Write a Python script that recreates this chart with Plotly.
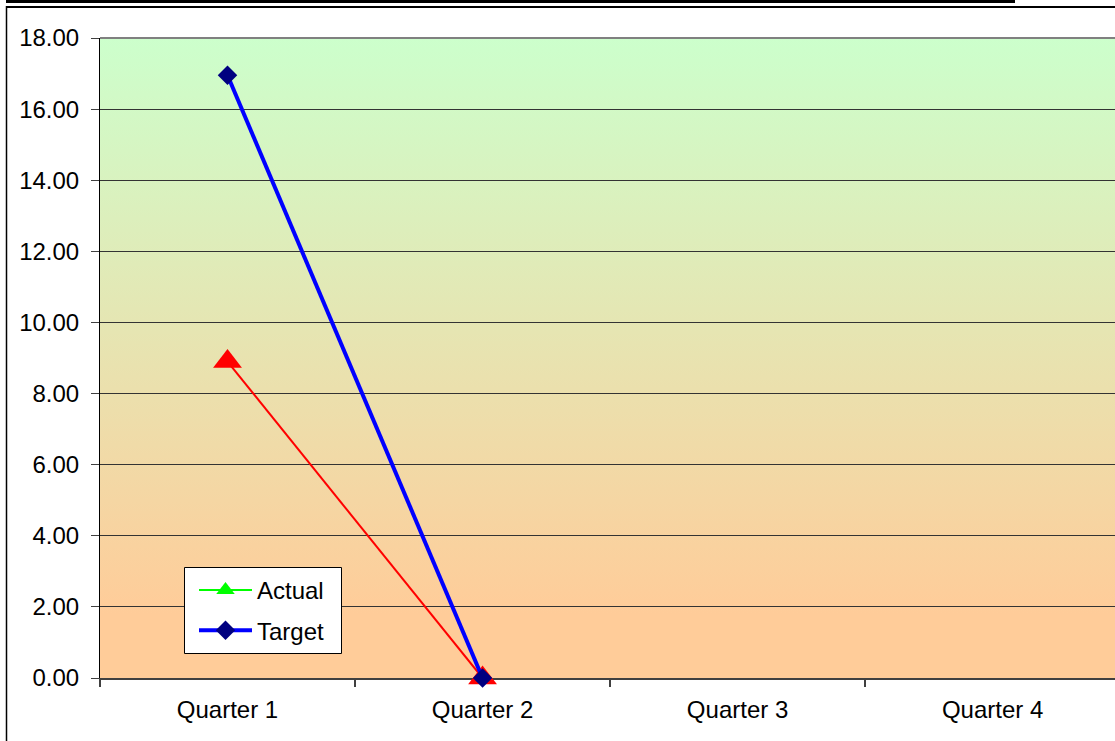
import base64
import plotly.graph_objects as go

# ---- data ----
quarters = ["Quarter 1", "Quarter 2", "Quarter 3", "Quarter 4"]
actual = [8.9, 0.0, None, None]
target = [16.95, 0.0, None, None]
y_ticks = [0, 2, 4, 6, 8, 10, 12, 14, 16, 18]
y_tick_labels = [f"{v:.2f}" for v in y_ticks]

# ---- page geometry ----
W, H = 1115, 741
ML, MR, MT, MB = 100, 0, 38, 63
PW, PH = W - ML - MR, H - MT - MB


def px_x(x):
    return (x - ML) / PW


def px_y(y):
    return (H - MB - y) / PH


FONT = "Arial, 'Liberation Sans', sans-serif"

# vertical green -> orange gradient used as plot background
svg = (
    '<svg xmlns="http://www.w3.org/2000/svg" width="10" height="100" '
    'preserveAspectRatio="none"><defs><linearGradient id="g" x1="0" y1="0" '
    'x2="0" y2="1"><stop offset="0" stop-color="#CCFFCC"/>'
    '<stop offset="0.9" stop-color="#FFCC99"/><stop offset="1" stop-color="#FFCC99"/>'
    '</linearGradient></defs><rect width="10" height="100" fill="url(#g)"/></svg>'
)
bg_src = "data:image/svg+xml;base64," + base64.b64encode(svg.encode()).decode()

fig = go.Figure()

# Actual series as plotted (red)
fig.add_trace(go.Scatter(
    x=quarters, y=actual, name="Actual", mode="lines+markers",
    line=dict(color="#FF0000", width=2),
    marker=dict(symbol="triangle-up", size=25, color="#FF0000"),
    showlegend=False, legendgroup="actual", cliponaxis=False,
))
# legend entry for Actual
fig.add_trace(go.Scatter(
    x=[None], y=[None], name="Actual", mode="lines+markers",
    line=dict(color="#00FF00", width=2),
    marker=dict(symbol="triangle-up", size=16, color="#00FF00"),
    legendgroup="actual",
))
# Target series
fig.add_trace(go.Scatter(
    x=quarters, y=target, name="Target", mode="lines+markers",
    line=dict(color="#0000FF", width=4),
    marker=dict(symbol="diamond", size=15, color="#000080"),
    legendgroup="target", cliponaxis=False,
))

shapes = [
    # top border of the plot area
    dict(type="line", xref="paper", yref="paper", x0=0, x1=1, y0=1, y1=1,
         line=dict(color="#808080", width=2)),
    # legend box
    dict(type="rect", xref="paper", yref="paper", layer="above",
         x0=px_x(184.5), x1=px_x(341.5), y0=px_y(567.5), y1=px_y(653.5),
         fillcolor="white", line=dict(color="black", width=1)),
    # chart frame
    dict(type="rect", xref="paper", yref="paper",
         x0=px_x(6), x1=px_x(1015), y0=px_y(0), y1=px_y(3),
         fillcolor="black", line=dict(width=0)),
    dict(type="line", xref="paper", yref="paper",
         x0=px_x(6), x1=px_x(W + 5), y0=px_y(7), y1=px_y(7),
         line=dict(color="black", width=2)),
    dict(type="line", xref="paper", yref="paper",
         x0=px_x(6.5), x1=px_x(6.5), y0=px_y(6), y1=px_y(H + 5),
         line=dict(color="black", width=1.5)),
]

fig.update_layout(
    width=W, height=H,
    margin=dict(l=ML, r=MR, t=MT, b=MB, pad=0),
    paper_bgcolor="white",
    plot_bgcolor="rgba(0,0,0,0)",
    font=dict(family=FONT, size=24, color="black"),
    images=[dict(source=bg_src, xref="paper", yref="paper", x=0, y=1,
                 sizex=1, sizey=1, sizing="stretch", layer="below",
                 xanchor="left", yanchor="top")],
    shapes=shapes,
    showlegend=True,
    legend=dict(
        x=px_x(194), y=px_y(568), xanchor="left", yanchor="top",
        bgcolor="rgba(0,0,0,0)", borderwidth=0,
        font=dict(family=FONT, size=24, color="black"),
        itemwidth=53, tracegroupgap=6, traceorder="grouped",
    ),
    xaxis=dict(
        type="category", categoryorder="array", categoryarray=quarters,
        range=[-0.5, 3.48], tickson="boundaries",
        ticks="outside", ticklen=7, tickwidth=2, tickcolor="#404040",
        showline=True, linecolor="#404040", linewidth=2, layer="below traces",
        showgrid=False, zeroline=False, ticklabelstandoff=9,
        tickfont=dict(family=FONT, size=24, color="black"),
    ),
    yaxis=dict(
        range=[0, 18], tickmode="array", tickvals=y_ticks, ticktext=y_tick_labels,
        ticks="outside", ticklen=8, tickwidth=1, tickcolor="#404040",
        showline=True, linecolor="black", linewidth=1, layer="below traces",
        showgrid=True, gridcolor="#333333", gridwidth=1,
        zeroline=False, ticklabelstandoff=7,
        tickfont=dict(family=FONT, size=24, color="black"),
    ),
)

fig.write_html("out.html")
